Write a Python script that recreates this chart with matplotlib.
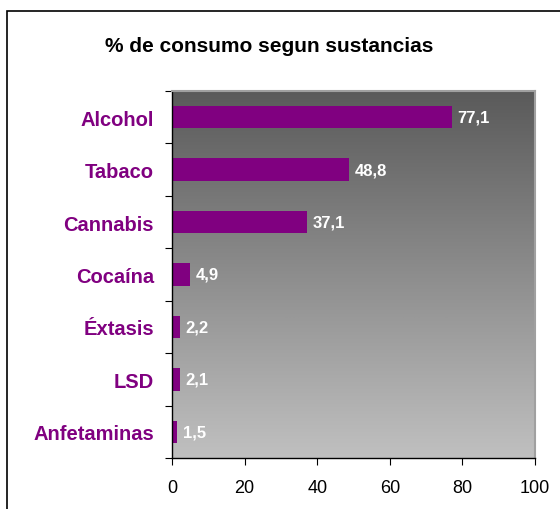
import matplotlib.pyplot as plt
import numpy as np
from matplotlib.colors import LinearSegmentedColormap
from matplotlib.patches import Rectangle

plt.rcParams["font.family"] = ["Liberation Sans", "DejaVu Sans"]

categories = ["Alcohol", "Tabaco", "Cannabis", "Cocaína", "Éxtasis", "LSD", "Anfetaminas"]
values = [77.1, 48.8, 37.1, 4.9, 2.2, 2.1, 1.5]
value_labels = ["77,1", "48,8", "37,1", "4,9", "2,2", "2,1", "1,5"]
xticks = [0, 20, 40, 60, 80, 100]

PURPLE = "#800080"

fig = plt.figure(figsize=(5.6, 5.1), dpi=100)
fig.patch.set_facecolor("white")

# outer chart border (cut off at right and bottom like the source)
fig.patches.append(Rectangle((7 / 560, -0.05), 1.1, 1 - 12 / 510 + 0.05,
                             transform=fig.transFigure, fill=False,
                             edgecolor="black", linewidth=1.2))

fig.text(269 / 560, 1 - 47 / 510, "% de consumo segun sustancias",
         ha="center", va="center", fontsize=15, fontweight="bold")

ax = fig.add_axes([172 / 560, 1 - 459 / 510, 363 / 560, 367 / 510])

# vertical gray gradient background
grad = LinearSegmentedColormap.from_list("bg", ["#5a5a5a", "#c0c0c0"])
ax.imshow(np.linspace(0, 1, 256).reshape(-1, 1), cmap=grad, aspect="auto",
          extent=[0, 100, len(categories) - 0.5, -0.5], zorder=0)

y = np.arange(len(categories))
ax.barh(y, values, height=0.43, color=PURPLE, zorder=2)
for yi, v, lab in zip(y, values, value_labels):
    ax.text(v + 1.6, yi, lab, va="center", ha="left", color="white",
            fontsize=12, fontweight="bold", zorder=3)

ax.set_xlim(0, 100)
ax.set_ylim(len(categories) - 0.5, -0.5)
ax.set_xticks(xticks)
ax.set_xticklabels([str(t) for t in xticks], fontsize=13)
ax.set_yticks(np.arange(len(categories) + 1) - 0.5)
ax.set_yticklabels([])
ax.set_yticks(y, minor=True)
ax.set_yticklabels(categories, minor=True, color=PURPLE, fontsize=14.5,
                   fontweight="bold")
ax.tick_params(axis="y", which="minor", length=0, pad=13)
ax.tick_params(axis="y", which="major", length=5, direction="out")
ax.tick_params(axis="x", length=5, direction="out", pad=10)

for side in ("top", "right"):
    ax.spines[side].set_color("#a0a0a0")
    ax.spines[side].set_linewidth(1.5)
for side in ("left", "bottom"):
    ax.spines[side].set_color("black")
    ax.spines[side].set_linewidth(1.0)

fig.savefig("out.png", dpi=100)
